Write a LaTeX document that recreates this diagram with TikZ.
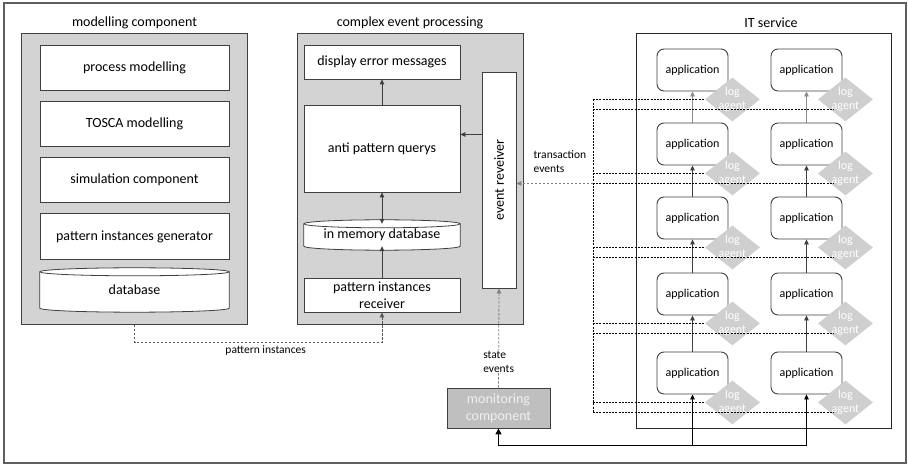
\documentclass[tikz,border=0pt]{standalone}
\usepackage{fontspec}
\setmainfont{Carlito}
\usetikzlibrary{arrows.meta, positioning, calc, shapes.geometric, backgrounds}

\begin{document}
\begin{tikzpicture}[
    x=1bp, y=-1bp,
    every node/.style={font=\fontsize{14bp}{17bp}\selectfont, inner sep=0pt},
    panel/.style={draw=edgegray, fill=panelgray, line width=1bp},
    itbox/.style={draw=black!85, fill=white, line width=1bp},
    block/.style={draw=edgegray, fill=white, line width=0.8bp, align=center},
    mblock/.style={block, minimum width=189bp, minimum height=45bp},
    cblock/.style={block, minimum width=156bp},
    drum/.style={draw=edgegray, fill=white, line width=0.8bp},
    app/.style={draw=edgegray, fill=white, line width=0.9bp, rounded corners=7bp,
        minimum width=71bp, minimum height=42bp, font=\fontsize{12bp}{14bp}\selectfont},
    agent/.style={diamond, fill=agentgray, minimum width=55bp, minimum height=44bp,
        label={[agenttext]center:log\\agent}},
    agenttext/.style={text=white, align=center, font=\fontsize{12bp}{14bp}\selectfont},
    moni/.style={draw=edgegray, fill=monigray, text=white!94!black, align=center,
        minimum width=103bp, minimum height=40bp, line width=0.9bp},
    note/.style={font=\fontsize{11.5bp}{14bp}\selectfont, align=left},
    flow/.style={draw=edgegray, line width=0.8bp, -{Triangle[length=5bp, width=4.5bp]}},
    feedline/.style={draw=black, line width=1.8bp, -{Triangle[length=6bp, width=6bp]}},
    loglink/.style={draw=black, line width=0.7bp, dash pattern=on 2bp off 1.2bp},
    eventlink/.style={draw=black!50, line width=0.8bp, dash pattern=on 2.5bp off 1.5bp,
        -{Triangle[length=5bp, width=4.5bp]}},
    pilink/.style={eventlink, draw=black!65},
]

\definecolor{edgegray}{HTML}{3F3F3F}
\definecolor{panelgray}{HTML}{D3D3D3}
\definecolor{agentgray}{HTML}{CFCFCF}
\definecolor{monigray}{HTML}{BFBFBF}
\definecolor{framegray}{HTML}{5E5E5E}

% database drum round a node: side lines, bottom bulge, top ellipse
\def\drum#1{%
    \filldraw[drum] let \p1=(#1.north west), \p2=(#1.north east) in
        (#1.north west) -- (#1.south west)
        arc[start angle=180, end angle=360, x radius={0.5*(\x2-\x1)}, y radius=4bp]
        -- (#1.north east)
        arc[start angle=0, end angle=180, x radius={0.5*(\x2-\x1)}, y radius=4bp] -- cycle;
    \draw[drum, fill=none] let \p1=(#1.north west), \p2=(#1.north east) in
        (#1.north east)
        arc[start angle=0, end angle=-180, x radius={0.5*(\x2-\x1)}, y radius=4bp];
}

\useasboundingbox (0,0) rectangle (908,465);
\draw[framegray, line width=1.2bp] (4,3) rectangle (906,463);

% ================================================================
%   modelling panel   x 22 .. 247     cep panel   x 297 .. 523
%   it service box    x 636 .. 891    all panels start at y 34
% ================================================================

\begin{scope}[on background layer]
    \node[panel, minimum width=225bp, minimum height=290bp] (modpanel) at (134.5,179) {};
    \node[panel, minimum width=226bp, minimum height=290bp] (ceppanel) at (410,179) {};
    \node[itbox, minimum width=255bp, minimum height=394bp] (itpanel) at (763.5,231) {};
\end{scope}

\node (modtitle) at (134.5,23) {modelling component};
\node (ceptitle) at (410,23) {complex event processing};
\node (ittitle) at (771,23) {IT service};

% ---------------------------------------------------------------- modelling
\node[mblock] (procmod) at (134.5,67.5) {process modelling};
\node[mblock, below=10.5bp of procmod] (toscamod) {TOSCA modelling};
\node[mblock, below=10.5bp of toscamod] (simcomp) {simulation component};
\node[mblock, below=10.5bp of simcomp] (pigen) {pattern instances generator};
\node[align=center, minimum width=189bp, minimum height=36bp] (modbase) at (134.5,290) {database};

% ---------------------------------------------------------------- cep
\node[cblock, minimum height=34bp] (errdisp) at (382,62) {display error messages};
\node[cblock, minimum height=87bp] (antiq) at (382,148.5) {anti pattern querys};
\node[align=center, minimum width=156bp, minimum height=22bp] (memdb) at (382,235) {in memory database};
\node[cblock, minimum height=34bp] (pirecv) at (382,295) {pattern instances\\receiver};
\node[block, minimum width=34bp, minimum height=216bp,
    label={[rotate=90]center:event reveiver}] (evrecv) at (499,180) {};

\begin{scope}[on background layer]
    \drum{modbase}
    \drum{memdb}
\end{scope}

\draw[flow] (antiq.north) -- (errdisp.south);
\draw[flow, {Triangle[length=5bp, width=4.5bp]}-{Triangle[length=5bp, width=4.5bp]}]
    (antiq.south) -- (memdb.north);
\draw[flow] (pirecv.north) -- (memdb.south);
\coordinate (evin) at ([yshift=14bp]antiq.east);
\draw[flow] (evin -| evrecv.west) -- (evin);

% ---------------------------------------------------------------- it service
\foreach \y [count=\r] in {70,144,218,294,373} {
    \node[app] (a\r1) at (692.5,\y) {application};
    \node[app] (a\r2) at (806.5,\y) {application};
}
\foreach \r in {1,...,5} {
    \node[agent] (la\r1) at ($(a\r1.south east)+(4,8)$) {};
    \node[agent] (la\r2) at ($(a\r2.south east)+(3,8)$) {};
}
\foreach \r/\s/\tone in {1/2/black!45, 2/3/edgegray, 3/4/edgegray, 4/5/edgegray} {
    \draw[flow, draw=\tone] (a\s1.north) -- (a\r1.south);
    \draw[flow, draw=\tone] (a\s2.north) -- (a\r2.south);
}

% log agents report to one bus left of the service box
\coordinate (bus) at (593,0);
\foreach \r in {1,...,5} {
    \coordinate (lo\r) at ([shift={(-12,10)}]la\r2.center);
    \draw[loglink] (la\r1.west -| bus) -- (la\r1.west);
    \draw[loglink] (lo\r -| bus) -- (lo\r);
}
\draw[loglink] (la11.west -| bus) -- (lo5 -| bus);

\draw[eventlink] (lo2 -| bus) -- (lo2 -| evrecv.east);
\node[note, anchor=south west] (txlabel) at ($(lo2 -| evrecv.east)+(17,-11)$) {transaction\\events};

% ---------------------------------------------------------------- links below
\coordinate (pibend) at ($(modpanel.south)+(0,18)$);
\draw[pilink] (modpanel.south) -- (pibend) -- (pibend -| pirecv.south)
    node[note, pos=0.53, below=3bp] (pilabel) {pattern instances} -- (pirecv.south);

\node[moni] (moni) at (498.5,408) {monitoring\\component};
\draw[eventlink] (moni.north) -- (evrecv.south)
    node[note, pos=0.26, fill=white, inner sep=1bp] (stlabel) {state\\events};

\coordinate (feed) at ($(a51.south)+(0,51)$);
\draw[feedline] (feed) -| (moni.south);
\draw[flow, draw=black] (feed) -- (a51.south);
\draw[flow, draw=black] (feed) -| (a52.south);

\end{tikzpicture}
\end{document}
